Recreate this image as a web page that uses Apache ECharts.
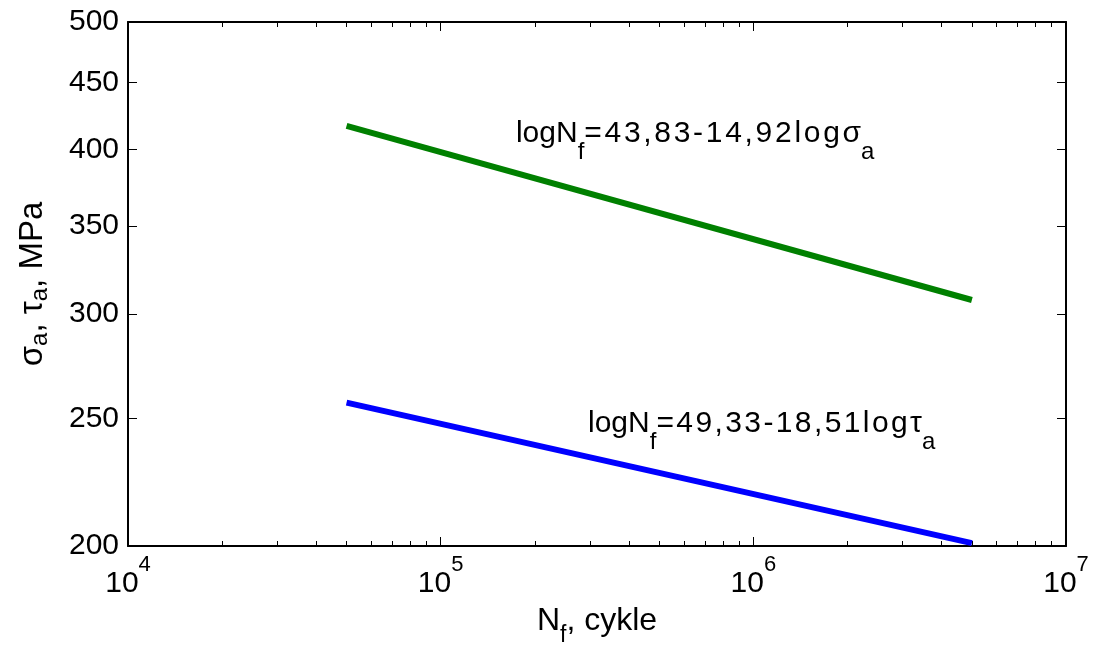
<!DOCTYPE html>
<html><head><meta charset="utf-8">
<script src="https://cdn.jsdelivr.net/npm/echarts@6/dist/echarts.min.js"></script>
<style>html,body{margin:0;padding:0;background:#fff}#c{width:1098px;height:646px}</style>
</head><body><div id="c"></div>
<script>
// Data
var cyclesN = [5e4, 5e6];
var sigmaA = [417, 307.5];   // green line, MPa
var tauA = [257, 201];       // blue line, MPa
var yTicks = [200, 250, 300, 350, 400, 450, 500];
var xMajor = [1e4, 1e5, 1e6, 1e7];
var xMinor = [2e4,3e4,4e4,5e4,6e4,7e4,8e4,9e4,2e5,3e5,4e5,5e5,6e5,7e5,8e5,9e5,2e6,3e6,4e6,5e6,6e6,7e6,8e6,9e6];
var eqSigmaParts = ['logN', 'f', '=43,83-14,92log', 'σ', 'a'];
var eqTauParts = ['logN', 'f', '=49,33-18,51log', 'τ', 'a'];
var eqSigmaPos = [1.741e5, 422.4];
var eqTauPos = [2.96e5, 254.3];
var xNameParts = ['N', 'f', ', cykle'];
var yNameParts = ['σ', 'a', ', τ', 'a', ', MPa'];

var FONT = '"Liberation Sans", Arial, sans-serif';
var BLACK = '#000';
function pairs(xs, ys){ return xs.map(function(x,i){ return [x, ys[i]]; }); }
var measureCtx = document.createElement('canvas').getContext('2d');
function charWidth(ch, size){ measureCtx.font = size + 'px ' + FONT; return measureCtx.measureText(ch).width; }

// rich styles: main text top-anchored, subscripts bottom-anchored, a spacer sets the line height
function subRich(spacer, mainSize, subSize){
  return {
    m: {fontSize: mainSize, fontFamily: FONT, color: BLACK, lineHeight: 2, verticalAlign: 'top'},
    s: {fontSize: subSize, fontFamily: FONT, color: BLACK, lineHeight: 2, verticalAlign: 'bottom'},
    sp: {fontSize: 1, fontFamily: FONT, color: 'rgba(0,0,0,0)', lineHeight: spacer, verticalAlign: 'middle'}
  };
}
function subText(parts){
  var out = '{sp|\u200b}';
  parts.forEach(function(p, i){ out += (i % 2 === 0 ? '{m|' : '{s|') + p + '}'; });
  return out;
}
// equation label: parts = [main, sub, spacedMain, main, sub]
function eqLabel(parts, extra){
  var rich = subRich(46, 30, 24);
  var out = '{sp|\u200b}{m|' + parts[0] + '}{s|' + parts[1] + '}';
  var chars = Array.from(parts[2]);
  chars.forEach(function(ch, i){
    var nm = 'w' + i;
    rich[nm] = {fontSize: 30, fontFamily: FONT, color: BLACK, lineHeight: 2, verticalAlign: 'top', width: charWidth(ch, 30) + extra};
    out += '{' + nm + '|' + ch + '}';
  });
  out += '{m|' + parts[3] + '}{s|' + parts[4] + '}';
  return {text: out, rich: rich};
}
var common = {type: 'log', logBase: 10, min: 1e4, max: 1e7, splitLine: {show: false}, minorTick:{show:false}};
function xAx(pos, major, showLabel){
  return Object.assign({}, common, {
    position: pos,
    axisLine: {show: major, onZero: false, lineStyle: {color: BLACK, width: 2}},
    axisTick: {show: true, inside: true, length: major ? 9 : 5, lineStyle: {color: BLACK, width: 1}, customValues: major ? xMajor : xMinor},
    axisLabel: {show: showLabel, margin: 8, customValues: xMajor,
      formatter: function(v){ return '{sp|\u200b}{b|10}{e|' + Math.round(Math.log10(v)) + '}'; },
      rich: {
        b: {fontSize: 30, fontFamily: FONT, color: BLACK, lineHeight: 2, verticalAlign: 'bottom'},
        e: {fontSize: 22, fontFamily: FONT, color: BLACK, lineHeight: 2, verticalAlign: 'top'},
        sp: {fontSize: 1, fontFamily: FONT, color: 'rgba(0,0,0,0)', lineHeight: 45, verticalAlign: 'middle'}
      }}
  });
}
var xAxes = [xAx('bottom', true, true), xAx('bottom', false, false), xAx('top', true, false), xAx('top', false, false)];
xAxes[0].name = subText(xNameParts);
xAxes[0].nameLocation = 'middle';
xAxes[0].nameGap = 59;
xAxes[0].nameTextStyle = {rich: subRich(42, 32, 23)};

function yAx(pos, showLabel){
  return {
    type: 'log', logBase: 10, min: 200, max: 500, position: pos,
    splitLine: {show: false}, minorTick: {show: false},
    axisLine: {show: true, onZero: false, lineStyle: {color: BLACK, width: 2}},
    axisTick: {show: true, inside: true, length: 9, lineStyle: {color: BLACK, width: 1}, customValues: yTicks},
    axisLabel: {show: showLabel, margin: 9, customValues: yTicks, fontSize: 30, fontFamily: FONT, color: BLACK,
      formatter: function(v){ return String(Math.round(v)); }}
  };
}
var yAxes = [yAx('left', true), yAx('right', false)];
yAxes[0].name = subText(yNameParts);
yAxes[0].nameLocation = 'middle';
yAxes[0].nameGap = 76;
yAxes[0].nameRotate = 90;
yAxes[0].nameTextStyle = {rich: subRich(36, 33, 24)};

function eqMark(parts, pos, extra){
  var lab = eqLabel(parts, extra);
  return {
    symbol: 'circle', symbolSize: 1, silent: true,
    itemStyle: {color: 'rgba(0,0,0,0)'},
    label: {show: true, position: 'inside', align: 'left', verticalAlign: 'top', formatter: lab.text, rich: lab.rich},
    data: [{coord: pos}]
  };
}
var chart = echarts.init(document.getElementById('c'), null, {renderer: 'canvas'});
chart.setOption({
  animation: false,
  backgroundColor: '#fff',
  grid: {left: 128, right: 32, top: 22, bottom: 100, containLabel: false, outerBoundsMode: 'none'},
  xAxis: xAxes,
  yAxis: yAxes,
  series: [
    {type: 'line', xAxisIndex: 0, yAxisIndex: 0, data: pairs(cyclesN, sigmaA), symbol: 'none',
     lineStyle: {color: '#008000', width: 6}, markPoint: eqMark(eqSigmaParts, eqSigmaPos, 2.7)},
    {type: 'line', xAxisIndex: 0, yAxisIndex: 0, data: pairs(cyclesN, tauA), symbol: 'none',
     lineStyle: {color: '#0000ff', width: 6}, markPoint: eqMark(eqTauParts, eqTauPos, 2.4)}
  ]
});
</script></body></html>
